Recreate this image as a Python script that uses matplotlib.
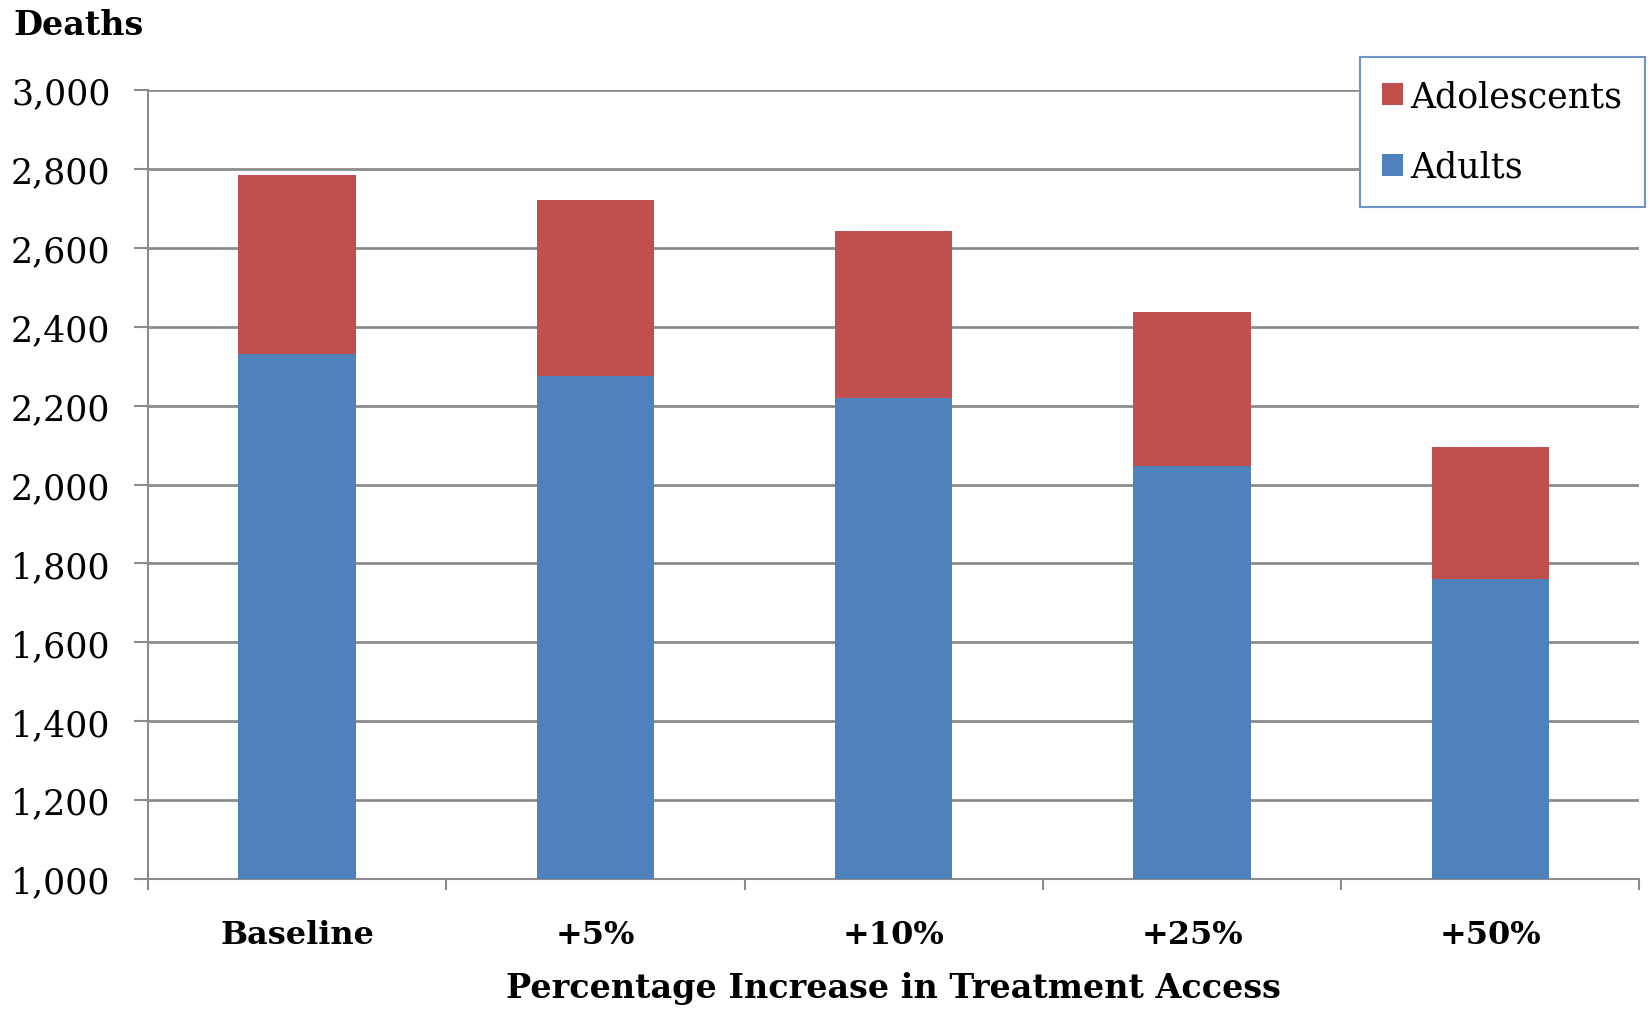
import matplotlib
matplotlib.use("Agg")
import matplotlib.pyplot as plt
from matplotlib.ticker import FuncFormatter
import numpy as np

# deaths by scenario
scenarios = ["Baseline", "+5%", "+10%", "+25%", "+50%"]
adults = [2332, 2275, 2219, 2046, 1760]
adolescents = [452, 447, 423, 391, 336]

blue = "#4F81BD"
red = "#C0504D"
grid_grey = "#8C8C8C"

plt.rcParams["font.family"] = ["DejaVu Serif"]

fig = plt.figure(figsize=(16.48, 10.12), dpi=100)
ax = fig.add_axes([0.0898, 0.1304, 0.905, 0.7796])

x = np.arange(len(scenarios))
ax.bar(x, adults, width=0.394, color=blue, label="Adults", zorder=3)
ax.bar(x, adolescents, width=0.394, bottom=adults, color=red,
       label="Adolescents", zorder=3)

ax.set_ylim(1000, 3000)
ax.set_xlim(-0.5, len(scenarios) - 0.5)
ax.set_yticks(np.arange(1000, 3001, 200))
ax.yaxis.set_major_formatter(FuncFormatter(lambda v, p: f"{int(v):,}"))
ax.yaxis.grid(True, color=grid_grey, linewidth=2, zorder=0)

# category labels sit between boundary ticks
ax.set_xticks(np.arange(-0.5, len(scenarios), 1.0))
ax.set_xticklabels([])
ax.set_xticks(x, minor=True)
ax.set_xticklabels(scenarios, minor=True, fontsize=23, fontweight="bold")
ax.tick_params(axis="x", which="minor", length=0, pad=29)
ax.tick_params(axis="x", which="major", length=8, width=1.5, color=grid_grey)
ax.tick_params(axis="y", length=10, width=1.5, color=grid_grey, pad=17,
               labelsize=25)

for s in ["top", "right"]:
    ax.spines[s].set_visible(False)
for s in ["left", "bottom"]:
    ax.spines[s].set_color(grid_grey)
    ax.spines[s].set_linewidth(1.5)

ax.set_xlabel("Percentage Increase in Treatment Access", fontsize=24,
              fontweight="bold", labelpad=15)
fig.text(0.008, 0.975, "Deaths", fontsize=24, fontweight="bold",
         ha="left", va="center")

handles, labels = ax.get_legend_handles_labels()
leg = ax.legend(handles[::-1], labels[::-1], loc="upper right",
                bbox_to_anchor=(1.0034, 1.042), fontsize=25, frameon=True,
                fancybox=False, framealpha=1, handlelength=0.6,
                handleheight=0.6, handletextpad=0.2, labelspacing=1.05,
                borderpad=0.65, borderaxespad=0)
leg.get_frame().set_edgecolor("#6E95C8")
leg.get_frame().set_linewidth(1.5)
leg.set_zorder(5)

fig.savefig("out.png", dpi=100)
